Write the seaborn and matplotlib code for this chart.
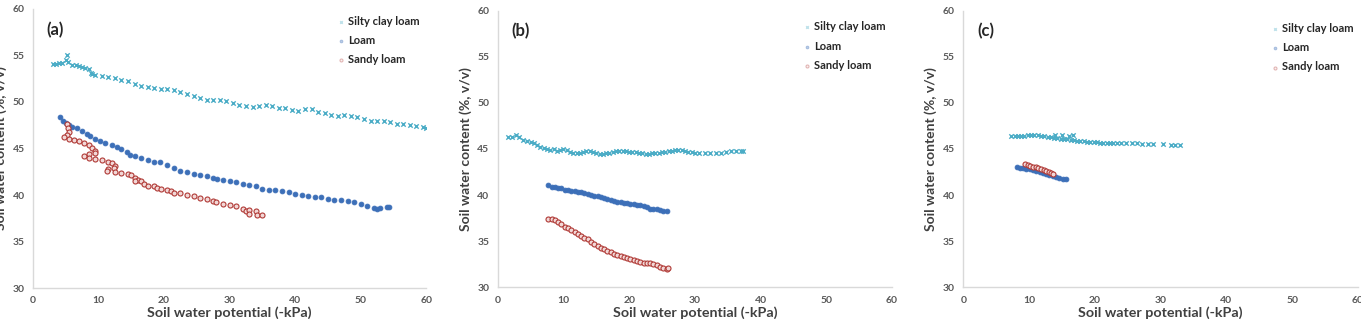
import matplotlib
matplotlib.use("Agg")
import matplotlib.pyplot as plt
import seaborn as sns
import pandas as pd

# ---------------- data ----------------
series_names = ["Silty clay loam", "Loam", "Sandy loam"]
panel_labels = ["(a)", "(b)", "(c)"]
x_ticks = [0, 10, 20, 30, 40, 50, 60]
y_ticks = [30, 35, 40, 45, 50, 55, 60]

a_silty_x = [3.0, 3.5, 4.0, 4.5, 5.0, 5.2, 5.4, 6.0, 6.5, 7.0, 7.5, 8.0, 8.5, 8.8, 9.0, 9.5, 10.5, 11.5, 12.5, 13.5,
             14.5, 15.5, 16.5, 17.5, 18.5, 19.5, 20.5, 21.5, 22.5, 23.5, 24.5, 25.5, 26.5, 27.5, 28.5, 29.5, 30.5,
             31.5, 32.5, 33.5, 34.5, 35.5, 36.5, 37.5, 38.5, 39.5, 40.5, 41.5, 42.5, 43.5, 44.5, 45.5, 46.5, 47.5,
             48.5, 49.5, 50.5, 51.5, 52.5, 53.5, 54.5, 55.5, 56.5, 57.5, 58.5, 59.5, 60.0]
a_silty_y = [54.1, 54.1, 54.2, 54.2, 54.5, 55.0, 54.3, 54.0, 54.0, 53.9, 53.8, 53.7, 53.5, 53.1, 53.0, 52.9, 52.8, 52.7,
             52.6, 52.4, 52.2, 51.9, 51.7, 51.6, 51.5, 51.4, 51.4, 51.3, 51.1, 50.9, 50.6, 50.4, 50.2, 50.2, 50.2,
             50.1, 49.9, 49.7, 49.6, 49.5, 49.6, 49.7, 49.6, 49.4, 49.3, 49.1, 49.0, 49.2, 49.2, 48.9, 48.8, 48.6,
             48.5, 48.6, 48.5, 48.4, 48.2, 48.0, 48.0, 48.0, 47.8, 47.6, 47.6, 47.5, 47.4, 47.3, 47.25]

a_loam_x = [4.2, 4.6, 5.0, 5.5, 6.0, 6.7, 7.5, 8.2, 8.7, 9.5, 10.3, 11.0, 12.0, 12.8, 13.5, 14.3, 14.8, 15.5, 16.5,
            17.5, 18.5, 19.4, 20.5, 21.5, 22.5, 23.5, 24.5, 25.5, 26.5, 27.5, 28.1, 29.0, 30.0, 31.0, 32.0, 33.0,
            34.0, 35.0, 36.0, 37.0, 38.0, 39.0, 40.0, 41.0, 42.0, 43.0, 44.0, 45.0, 46.0, 47.0, 48.0, 49.0, 50.0,
            51.0, 52.0, 52.5, 53.0, 54.0, 54.3]
a_loam_y = [48.4, 48.0, 47.7, 47.5, 47.3, 47.2, 46.9, 46.6, 46.3, 46.0, 45.8, 45.6, 45.4, 45.2, 45.0, 44.6, 44.3, 44.2,
            44.0, 43.8, 43.6, 43.5, 43.2, 42.9, 42.6, 42.5, 42.3, 42.2, 42.0, 41.8, 41.7, 41.6, 41.5, 41.4, 41.2,
            41.1, 41.0, 40.6, 40.5, 40.5, 40.4, 40.3, 40.1, 40.0, 39.9, 39.8, 39.8, 39.6, 39.5, 39.5, 39.4, 39.3,
            39.0, 38.8, 38.6, 38.55, 38.6, 38.7, 38.7]

a_sandy_x = [5.2, 5.4, 5.5, 5.2, 4.8, 5.5, 6.2, 7.0, 7.8, 8.5, 9.0, 9.4, 9.5, 8.5, 7.8, 8.5, 9.5, 10.5, 11.5, 12.0,
             12.5, 12.4, 11.5, 11.3, 12.5, 13.5, 14.5, 15.0, 15.5, 16.0, 15.5, 16.5, 17.0, 17.5, 18.5, 19.0, 19.5,
             20.5, 21.0, 21.5, 22.5, 23.5, 24.5, 25.5, 26.5, 27.5, 28.0, 29.0, 30.0, 31.0, 32.0, 32.5, 33.0, 34.0,
             33.0, 34.2, 35.0]
a_sandy_y = [47.6, 47.2, 46.8, 46.5, 46.2, 46.0, 45.9, 45.8, 45.6, 45.4, 45.1, 44.7, 44.5, 44.4, 44.2, 44.0, 43.9,
             43.8, 43.6, 43.4, 43.1, 42.9, 42.8, 42.6, 42.5, 42.4, 42.3, 42.1, 41.8, 41.6, 41.5, 41.5, 41.2, 41.0,
             41.0, 40.8, 40.6, 40.5, 40.4, 40.2, 40.2, 40.0, 39.9, 39.7, 39.6, 39.4, 39.2, 39.0, 38.9, 38.8, 38.5,
             38.3, 38.4, 38.3, 38.0, 37.9, 37.9]

b_silty_x = [1.6, 2.2, 2.8, 3.2, 3.8, 4.5, 5.0, 5.5, 6.0, 6.5, 7.0, 7.5, 8.0, 8.5, 9.0, 9.5, 10.0, 10.5, 11.0, 11.5,
             12.0, 12.5, 13.0, 13.5, 14.0, 14.5, 15.0, 15.5, 16.0, 16.5, 17.0, 17.5, 18.0, 18.5, 19.0, 19.5, 20.0,
             20.5, 21.0, 21.5, 22.0, 22.5, 23.0, 23.5, 24.0, 24.5, 25.0, 25.5, 26.0, 26.5, 27.0, 27.5, 28.0, 28.5,
             29.0, 29.5, 30.0, 30.7, 31.5, 32.3, 33.2, 34.0, 34.8, 35.5, 36.2, 37.0, 37.4]
b_silty_y = [46.3, 46.3, 46.5, 46.3, 46.0, 45.9, 45.8, 45.6, 45.4, 45.2, 45.1, 45.0, 44.9, 45.0, 44.8, 44.9, 45.0,
             44.9, 44.7, 44.6, 44.6, 44.6, 44.7, 44.8, 44.8, 44.7, 44.6, 44.5, 44.5, 44.6, 44.6, 44.7, 44.8, 44.8,
             44.8, 44.8, 44.7, 44.7, 44.7, 44.6, 44.6, 44.5, 44.5, 44.6, 44.6, 44.6, 44.7, 44.7, 44.8, 44.8, 44.9,
             44.9, 44.9, 44.8, 44.7, 44.7, 44.6, 44.6, 44.6, 44.6, 44.6, 44.6, 44.7, 44.8, 44.8, 44.8, 44.8]

b_loam_x = [7.7, 8.2, 8.7, 9.2, 9.7, 10.2, 10.7, 11.2, 11.7, 12.2, 12.7, 13.2, 13.7, 14.2, 14.7, 15.2, 15.7, 16.2,
            16.7, 17.2, 17.7, 18.2, 18.7, 19.2, 19.7, 20.2, 20.7, 21.2, 21.7, 22.2, 22.7, 23.2, 23.7, 24.2, 24.7,
            25.2, 25.7]
b_loam_y = [41.1, 40.9, 40.9, 40.8, 40.8, 40.6, 40.6, 40.5, 40.4, 40.3, 40.3, 40.2, 40.1, 40.0, 39.9, 39.9, 39.8,
            39.7, 39.6, 39.5, 39.4, 39.3, 39.3, 39.2, 39.1, 39.0, 39.0, 38.9, 38.9, 38.8, 38.7, 38.5, 38.5, 38.5,
            38.4, 38.3, 38.3]

b_sandy_x = [7.7, 8.2, 8.7, 9.2, 9.7, 10.2, 10.7, 11.2, 11.7, 12.2, 12.7, 13.2, 13.7, 14.2, 14.7, 15.2, 15.7, 16.2,
             16.7, 17.2, 17.7, 18.2, 18.7, 19.2, 19.7, 20.2, 20.7, 21.2, 21.7, 22.2, 22.7, 23.2, 23.7, 24.2, 24.7,
             25.2, 25.7, 25.9]
b_sandy_y = [37.4, 37.4, 37.3, 37.1, 36.9, 36.6, 36.4, 36.2, 36.0, 35.8, 35.6, 35.4, 35.2, 34.9, 34.7, 34.5, 34.3,
             34.2, 34.0, 33.8, 33.6, 33.5, 33.4, 33.3, 33.2, 33.1, 33.0, 32.9, 32.8, 32.7, 32.6, 32.6, 32.5, 32.4,
             32.2, 32.1, 32.0, 32.1]

c_silty_x = [7.3, 7.8, 8.3, 8.8, 9.3, 9.8, 10.3, 10.8, 11.3, 11.8, 12.3, 12.8, 13.3, 13.8, 14.0, 14.3, 14.8, 15.0,
             15.3, 15.8, 16.0, 16.3, 16.7, 16.8, 17.3, 17.8, 18.3, 18.8, 19.3, 19.8, 20.3, 20.8, 21.3, 21.8, 22.3,
             22.8, 23.3, 24.0, 24.8, 25.6, 26.4, 27.2, 28.0, 28.8, 30.4, 31.5, 32.2, 32.9]
c_silty_y = [46.4, 46.4, 46.4, 46.4, 46.4, 46.5, 46.5, 46.5, 46.5, 46.4, 46.4, 46.3, 46.3, 46.2, 46.5, 46.2, 46.1,
             46.5, 46.1, 46.1, 46.4, 46.0, 46.5, 46.0, 45.9, 45.9, 45.9, 45.8, 45.8, 45.8, 45.8, 45.7, 45.7, 45.7,
             45.7, 45.7, 45.6, 45.6, 45.6, 45.6, 45.6, 45.5, 45.5, 45.5, 45.5, 45.4, 45.4, 45.4]

c_loam_x = [8.1, 8.6, 9.1, 9.6, 10.1, 10.6, 11.1, 11.6, 12.1, 12.6, 13.1, 13.6, 14.1, 14.6, 15.1, 15.6]
c_loam_y = [43.0, 42.9, 42.9, 42.8, 42.8, 42.7, 42.6, 42.5, 42.4, 42.3, 42.2, 42.1, 42.0, 41.9, 41.8, 41.7]

c_sandy_x = [9.4, 9.8, 10.2, 10.6, 11.0, 11.4, 11.8, 12.2, 12.6, 13.0, 13.4, 13.7]
c_sandy_y = [43.4, 43.3, 43.2, 43.1, 43.0, 42.9, 42.8, 42.7, 42.6, 42.5, 42.4, 42.3]

# ---------------- build table ----------------
rows = []
panels = {
    "(a)": [(a_silty_x, a_silty_y), (a_loam_x, a_loam_y), (a_sandy_x, a_sandy_y)],
    "(b)": [(b_silty_x, b_silty_y), (b_loam_x, b_loam_y), (b_sandy_x, b_sandy_y)],
    "(c)": [(c_silty_x, c_silty_y), (c_loam_x, c_loam_y), (c_sandy_x, c_sandy_y)],
}
for p, lst in panels.items():
    for name, (xs, ys) in zip(series_names, lst):
        for xv, yv in zip(xs, ys):
            rows.append({"panel": p, "soil": name, "x": xv, "y": yv})
df = pd.DataFrame(rows)

# ---------------- plot ----------------
sns.set_theme(style="white")
plt.rcParams["font.family"] = ["Lato", "DejaVu Sans"]

fig = plt.figure(figsize=(13.61, 3.30), dpi=100)
positions = [
    [0.0242, 0.127, 0.289, 0.846],
    [0.3657, 0.129, 0.2897, 0.839],
    [0.7078, 0.129, 0.2900, 0.839],
]
colors = {"Silty clay loam": "#4BACC6", "Loam": "#3C6FB8", "Sandy loam": "#B03A36"}
styles = {
    "Silty clay loam": dict(marker="x", s=10, linewidth=1.0),
    "Loam": dict(marker="o", s=12, linewidth=0.6, edgecolor="#3C6FB8"),
    "Sandy loam": dict(marker="o", s=13, linewidth=0.8, facecolor="#F2D8D7", edgecolor="#B03A36"),
}
text_col = "#404040"
legend_anchor = [(1.0, 1.0), (1.0, 0.985), (1.005, 0.98)]

for i, p in enumerate(panel_labels):
    ax = fig.add_axes(positions[i])
    sub = df[df["panel"] == p]
    for name in series_names:
        d = sub[sub["soil"] == name]
        sns.scatterplot(data=d, x="x", y="y", ax=ax, color=colors[name], label=name, **styles[name])
    ax.set_xlim(0, 60)
    ax.set_ylim(30, 60)
    ax.set_xticks(x_ticks)
    ax.set_yticks(y_ticks)
    for s in ["top", "right"]:
        ax.spines[s].set_visible(False)
    for s in ["left", "bottom"]:
        ax.spines[s].set_color("#D9D9D9")
        ax.spines[s].set_linewidth(1.0)
    ax.tick_params(axis="both", which="major", length=3, color="#D9D9D9", width=1.0,
                   labelsize=7.5, labelcolor="#595959", direction="out", pad=3)
    for lab in ax.get_xticklabels() + ax.get_yticklabels():
        lab.set_fontweight("bold")
    ax.set_xlabel("Soil water potential (-kPa)", fontsize=10.3, fontweight="bold", color=text_col, labelpad=1)
    ax.set_ylabel("Soil water content (%, v/v)", fontsize=10, fontweight="bold", color=text_col, labelpad=4)
    ax.text(0.035, 0.955, p, transform=ax.transAxes, fontsize=12, fontweight="bold",
            color="#262626", va="top", ha="left")
    leg = ax.legend(loc="upper right", bbox_to_anchor=legend_anchor[i], frameon=False,
                    fontsize=8, handletextpad=0.1, labelspacing=0.75, markerscale=0.6,
                    handlelength=1.0, borderaxespad=0.2)
    for t in leg.get_texts():
        t.set_fontweight("bold")
        t.set_color("#262626")
    for h in leg.legend_handles:
        h.set_alpha(0.35)

fig.savefig("out.png", dpi=100)
